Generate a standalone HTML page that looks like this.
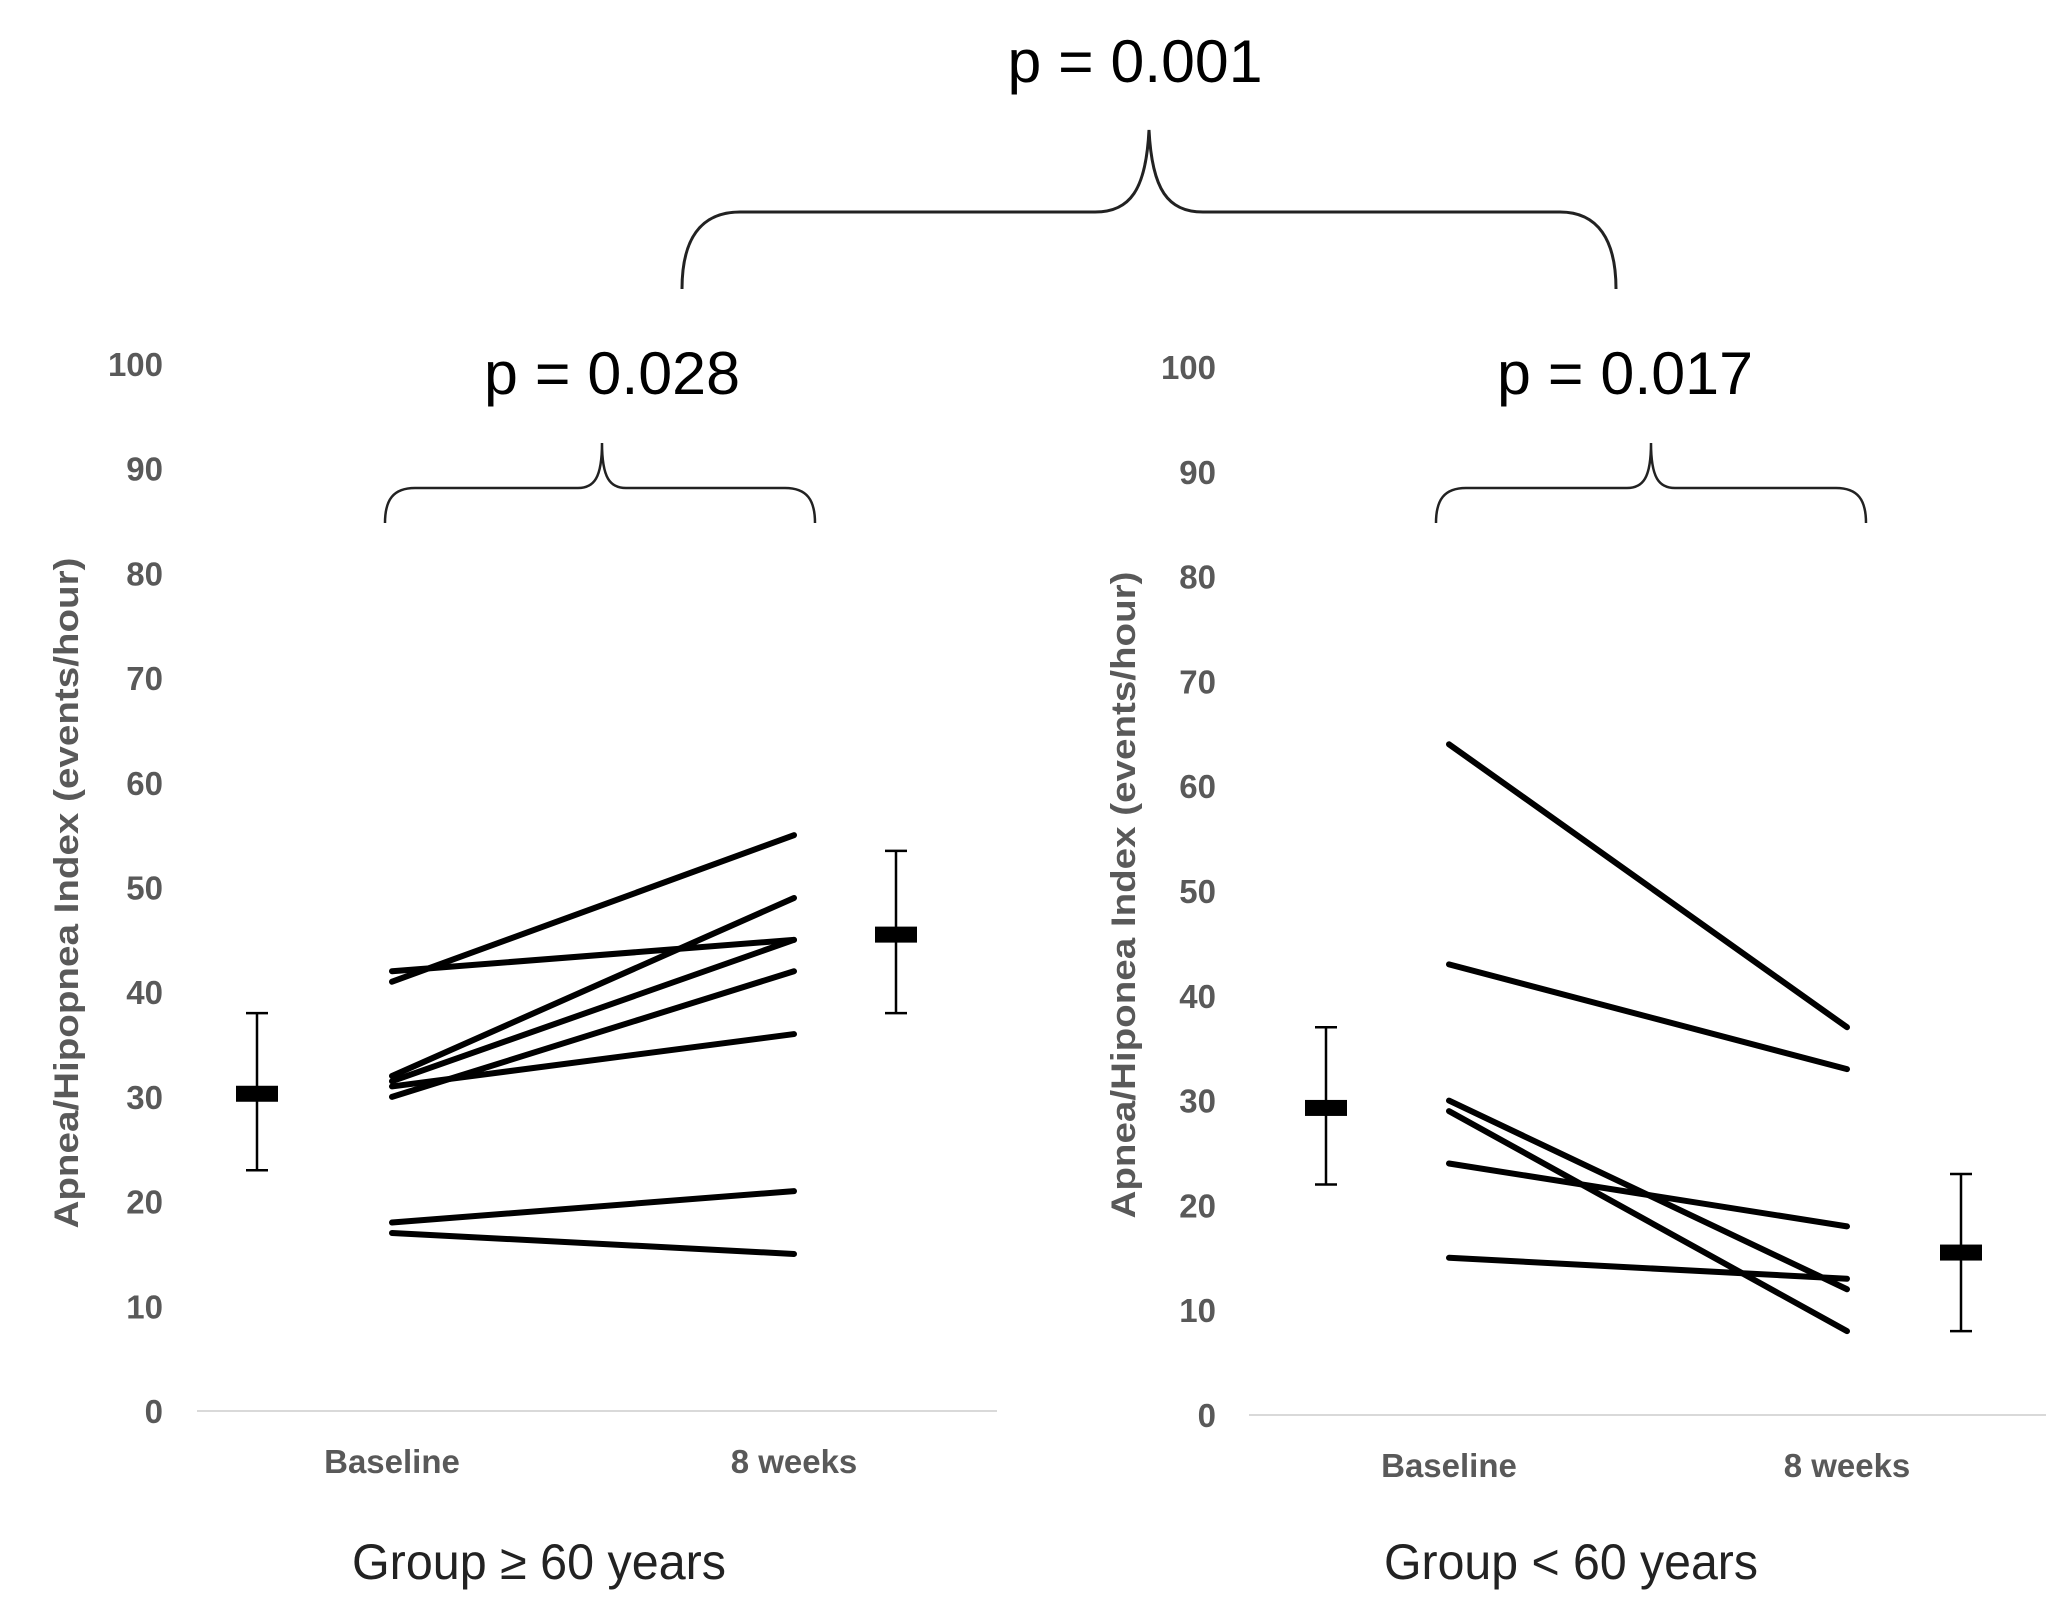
<!DOCTYPE html>
<html><head><meta charset="utf-8"><style>
html,body{margin:0;padding:0;background:#fff;}
svg{display:block;}
.tick{font-family:"Liberation Sans",sans-serif;font-weight:bold;font-size:33px;fill:#595959;}
.ytitle{font-family:"Liberation Sans",sans-serif;font-weight:bold;font-size:34px;fill:#595959;}
.ptxt{font-family:"Liberation Sans",sans-serif;font-size:60px;fill:#000;}
.grp{font-family:"Liberation Sans",sans-serif;font-size:50px;fill:#222;}
</style></head><body>
<svg id="chart" width="2072" height="1621" viewBox="0 0 2072 1621" xmlns="http://www.w3.org/2000/svg">
<g fill="none" stroke="#222" stroke-width="3">
<path d="M682 289 C682 240 700 212 740 212 L1095 212 C1130 212 1146 190 1149 130 C1152 190 1168 212 1203 212 L1560 212 C1598 212 1616 240 1616 289"/>
</g>
<text class="ptxt" x="1135" y="82" text-anchor="middle" textLength="255" lengthAdjust="spacingAndGlyphs">p = 0.001</text>
<g id="panels"></g>
</svg>
<script>
const categories = ["Baseline", "8 weeks"];
const yTicks = [0,10,20,30,40,50,60,70,80,90,100];
const leftBaseline = [41, 42, 32, 31.5, 30, 31, 18, 17];
const leftWeek8 = [55, 45, 49, 45, 42, 36, 21, 15];
const leftMeans = [30.3, 45.5];
const leftErrLow = [23, 38];
const leftErrHigh = [38, 53.5];
const rightBaseline = [64, 43, 30, 29, 24, 15];
const rightWeek8 = [37, 33, 12, 8, 18, 13];
const rightMeans = [29.3, 15.5];
const rightErrLow = [22, 8];
const rightErrHigh = [37, 23];

const NS = "http://www.w3.org/2000/svg";
const root = document.getElementById('panels');
function mk(tag, attrs, parent){const e=document.createElementNS(NS,tag);for(const k in attrs)e.setAttribute(k,attrs[k]);(parent||root).appendChild(e);return e;}

const panels = [
 {id:'older', y0:1411, y100:364, axX1:197, axX2:997, catX:[392,794], meanX:[257,896], tickRight:163, titleX:66, titleY:893, titleLen:671,
  base:leftBaseline, wk:leftWeek8, means:leftMeans, lo:leftErrLow, hi:leftErrHigh,
  brace:[385,815,602], pLabel:'p = 0.028', pX:612, group:'Group ≥ 60 years', groupX:539},
 {id:'younger', y0:1415, y100:367, axX1:1249, axX2:2046, catX:[1449,1847], meanX:[1326,1961], tickRight:1216, titleX:1123, titleY:895, titleLen:647,
  base:rightBaseline, wk:rightWeek8, means:rightMeans, lo:rightErrLow, hi:rightErrHigh,
  brace:[1436,1866,1651], pLabel:'p = 0.017', pX:1625, group:'Group < 60 years', groupX:1571}
];

panels.forEach(p=>{
 const y = v => p.y0 - (p.y0-p.y100)*v/100;
 const g = mk('g',{});
 
 
 const ax = mk('line',{x1:p.axX1,x2:p.axX2,y1:p.y0,y2:p.y0,stroke:'#d9d9d9','stroke-width':2},g);
 
 
 yTicks.forEach(t=>{
  const tx = mk('text',{x:p.tickRight,y:y(t)+12,'text-anchor':'end',class:'tick'},g);
  tx.textContent = t;
  
  
 });
 categories.forEach((c,i)=>{
  const tx = mk('text',{x:p.catX[i],y:p.y0+62,'text-anchor':'middle',class:'tick'},g);
  tx.textContent = c;
  
  
 });
 const tt = mk('text',{x:0,y:0,'text-anchor':'middle',class:'ytitle',transform:`translate(${p.titleX+12},${p.titleY}) rotate(-90)`,textLength:p.titleLen,lengthAdjust:'spacingAndGlyphs'},g);
 tt.textContent = p.id==='older' ? 'Apnea/Hipopnea Index (events/hour)' : 'Apnea/Hiponea Index (events/hour)';
 
 
 p.base.forEach((b,i)=>{
  const ln = mk('line',{x1:p.catX[0],y1:y(b),x2:p.catX[1],y2:y(p.wk[i]),stroke:'#000','stroke-width':6,'stroke-linecap':'round'},g);
  
  
 });
 p.means.forEach((m,i)=>{
  const x = p.meanX[i];
  const eb = mk('path',{d:`M${x} ${y(p.hi[i])} V${y(p.lo[i])} M${x-11} ${y(p.hi[i])} H${x+11} M${x-11} ${y(p.lo[i])} H${x+11}`,stroke:'#000','stroke-width':2.5,fill:'none'},g);
  
  
  const r = mk('rect',{x:x-21,y:y(m)-8,width:42,height:16,fill:'#000'},g);
  
  
 });
 const [bl,br,bt] = p.brace;
 const bp = mk('path',{d:`M${bl} 523 C${bl} 500 ${bl+8} 488 ${bl+30} 488 L${bt-24} 488 C${bt-8} 488 ${bt} 478 ${bt} 443 C${bt} 478 ${bt+8} 488 ${bt+24} 488 L${br-30} 488 C${br-8} 488 ${br} 500 ${br} 523`,stroke:'#222','stroke-width':2.5,fill:'none'},g);
 
 
 const pt = mk('text',{x:p.pX,y:394,'text-anchor':'middle',class:'ptxt',textLength:256,lengthAdjust:'spacingAndGlyphs'},g);
 pt.textContent = p.pLabel;
 
 
 const gt = mk('text',{x:p.groupX,y:1579,'text-anchor':'middle',class:'grp',textLength:374,lengthAdjust:'spacingAndGlyphs'},g);
 gt.textContent = p.group;
 
 
});
</script>
</body></html>
